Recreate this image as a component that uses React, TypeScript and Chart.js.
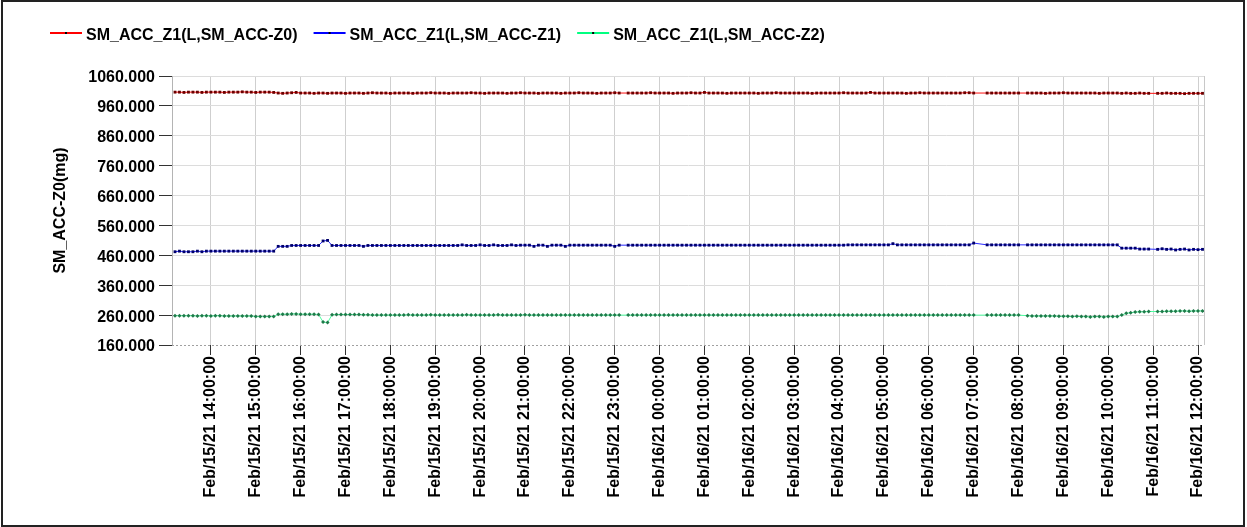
import React, { useEffect, useRef } from 'react';
import { Chart, registerables } from 'chart.js';

Chart.register(...registerables);

// Sampling: first sample Feb/15/21 13:12:00 (minutes since Feb/15/21 00:00), one sample every 6 minutes
const START_MINUTE = 792;
const STEP_MINUTES = 6;

const SERIES_NAMES = [
  'SM_ACC_Z1(L,SM_ACC-Z0)',
  'SM_ACC_Z1(L,SM_ACC-Z1)',
  'SM_ACC_Z1(L,SM_ACC-Z2)',
];

const Z0_VALUES = [
  1006, 1006, 1005, 1006, 1006, 1006, 1005, 1006, 1006, 1006,
  1006, 1005, 1006, 1006, 1006, 1007, 1006, 1006, 1005, 1006,
  1006, 1006, 1005, 1003, 1002, 1003, 1004, 1005, 1003, 1003,
  1003, 1002, 1003, 1003, 1002, 1003, 1003, 1003, 1002, 1003,
  1003, 1003, 1002, 1003, 1004, 1003, 1003, 1003, 1002, 1003,
  1003, 1003, 1003, 1002, 1003, 1003, 1003, 1004, 1003, 1003,
  1003, 1002, 1003, 1003, 1003, 1003, 1004, 1003, 1003, 1002,
  1003, 1003, 1003, 1003, 1002, 1003, 1003, 1004, 1003, 1003,
  1003, 1002, 1003, 1003, 1003, 1003, 1002, 1003, 1003, 1003,
  1004, 1003, 1003, 1003, 1002, 1003, 1003, 1003, 1004, 1003,
  null, 1003, 1003, 1003, 1003, 1003, 1004, 1003, 1003, 1003,
  1003, 1002, 1003, 1003, 1003, 1004, 1003, 1003, 1005, 1003,
  1003, 1003, 1003, 1002, 1003, 1003, 1003, 1003, 1003, 1003,
  1002, 1003, 1003, 1003, 1004, 1003, 1003, 1003, 1003, 1003,
  1003, 1003, 1002, 1003, 1003, 1003, 1003, 1003, 1003, 1004,
  1003, 1003, 1003, 1003, 1003, 1005, 1003, 1003, 1003, 1003,
  1003, 1003, 1003, 1002, 1003, 1003, 1004, 1003, 1003, 1003,
  1003, 1003, 1003, 1003, 1003, 1003, 1004, 1004, 1003, null,
  null, 1003, 1003, 1003, 1003, 1003, 1003, 1003, 1003, null,
  1003, 1003, 1003, 1003, 1002, 1003, 1003, 1003, 1004, 1003,
  1003, 1003, 1003, 1003, 1003, 1003, 1002, 1003, 1003, 1003,
  1003, 1002, 1003, 1002, 1002, 1003, 1002, 1002, null, 1002,
  1002, 1003, 1002, 1002, 1002, 1001, 1002, 1002, 1002, 1002,
];

const Z1_VALUES = [
  472, 474, 472, 472, 472, 474, 472, 474, 474, 474,
  474, 474, 474, 474, 474, 474, 474, 474, 474, 474,
  474, 474, 474, 490, 490, 490, 493, 493, 493, 493,
  493, 493, 493, 508, 510, 493, 493, 493, 493, 493,
  493, 493, 490, 493, 493, 493, 493, 493, 493, 493,
  493, 493, 493, 493, 493, 493, 493, 493, 493, 493,
  493, 493, 493, 493, 495, 493, 493, 493, 495, 493,
  493, 495, 493, 493, 493, 495, 493, 494, 494, 494,
  490, 494, 494, 490, 494, 494, 494, 490, 494, 494,
  494, 494, 494, 494, 494, 494, 494, 494, 490, 494,
  null, 494, 494, 494, 494, 494, 494, 494, 494, 494,
  494, 494, 494, 494, 494, 494, 494, 494, 494, 494,
  494, 494, 494, 494, 494, 494, 494, 494, 494, 494,
  494, 494, 494, 494, 494, 494, 494, 494, 494, 494,
  494, 494, 494, 494, 494, 494, 494, 494, 494, 494,
  495, 495, 495, 495, 495, 495, 495, 495, 495, 495,
  499, 495, 495, 495, 495, 495, 495, 495, 495, 495,
  495, 495, 495, 495, 495, 495, 495, 495, 501, null,
  null, 495, 495, 495, 495, 495, 495, 495, 495, null,
  495, 495, 495, 495, 495, 495, 495, 495, 495, 495,
  495, 495, 495, 495, 495, 495, 495, 495, 495, 495,
  495, 484, 484, 484, 484, 481, 481, 481, null, 480,
  482, 480, 481, 478, 480, 481, 478, 480, 479, 480,
];

const Z2_VALUES = [
  258, 258, 258, 258, 258, 257, 258, 258, 257, 258,
  258, 257, 257, 257, 257, 257, 257, 257, 255, 255,
  255, 255, 255, 263, 263, 263, 264, 264, 263, 263,
  263, 263, 262, 237, 235, 261, 262, 262, 262, 262,
  262, 262, 261, 261, 260, 260, 260, 260, 260, 260,
  260, 260, 261, 260, 260, 260, 260, 261, 260, 260,
  260, 260, 260, 260, 260, 261, 260, 260, 260, 260,
  260, 260, 261, 260, 260, 260, 260, 260, 261, 260,
  260, 260, 260, 260, 260, 260, 260, 260, 260, 260,
  260, 260, 260, 260, 260, 260, 260, 260, 260, 260,
  null, 260, 260, 260, 260, 260, 260, 260, 260, 260,
  260, 260, 260, 260, 260, 260, 260, 260, 260, 260,
  260, 260, 260, 260, 260, 260, 260, 260, 260, 260,
  260, 260, 260, 260, 260, 260, 260, 260, 260, 260,
  260, 260, 260, 260, 260, 260, 260, 260, 260, 260,
  260, 260, 260, 260, 260, 260, 260, 260, 260, 260,
  260, 260, 260, 260, 260, 260, 260, 260, 260, 260,
  260, 260, 260, 260, 260, 260, 260, 260, 260, null,
  null, 260, 260, 260, 260, 260, 260, 260, 260, null,
  258, 257, 257, 257, 257, 257, 257, 256, 256, 256,
  255, 256, 255, 255, 254, 255, 255, 254, 255, 255,
  255, 260, 266, 268, 270, 271, 271, 272, null, 272,
  272, 273, 273, 273, 274, 274, 273, 274, 274, 274,
];

const X_MIN = 788;
const X_MAX = 2168;
const X_TICK_MINUTES = [
  840, 900, 960, 1020, 1080, 1140, 1200, 1260, 1320, 1380, 1440, 1500,
  1560, 1620, 1680, 1740, 1800, 1860, 1920, 1980, 2040, 2100, 2160,
];
const X_TICK_LABELS = [
  'Feb/15/21 14:00:00', 'Feb/15/21 15:00:00', 'Feb/15/21 16:00:00', 'Feb/15/21 17:00:00',
  'Feb/15/21 18:00:00', 'Feb/15/21 19:00:00', 'Feb/15/21 20:00:00', 'Feb/15/21 21:00:00',
  'Feb/15/21 22:00:00', 'Feb/15/21 23:00:00', 'Feb/16/21 00:00:00', 'Feb/16/21 01:00:00',
  'Feb/16/21 02:00:00', 'Feb/16/21 03:00:00', 'Feb/16/21 04:00:00', 'Feb/16/21 05:00:00',
  'Feb/16/21 06:00:00', 'Feb/16/21 07:00:00', 'Feb/16/21 08:00:00', 'Feb/16/21 09:00:00',
  'Feb/16/21 10:00:00', 'Feb/16/21 11:00:00', 'Feb/16/21 12:00:00',
];
const Y_TICKS = [160, 260, 360, 460, 560, 660, 760, 860, 960, 1060];
const Y_TITLE = 'SM_ACC-Z0(mg)';

const FONT_FAMILY = '"Liberation Sans", Arial, Helvetica, sans-serif';
const LINE_COLORS = ['#ff1010', '#2a2aff', '#4dffa0'];
const POINT_COLORS = ['#6a0000', '#00006a', '#1f7a4a'];
const POINT_STYLES = ['rect', 'rect', 'rectRot'];
const LEGEND_COLORS = ['#ff0000', '#0000ff', '#00ff80'];

const SAMPLE_MINUTES = Z0_VALUES.map((_, i) => START_MINUTE + i * STEP_MINUTES);

const legendAndFramePlugin = {
  id: 'legendAndFrame',
  afterDraw(chart: any) {
    const ctx = chart.ctx as CanvasRenderingContext2D;
    const a = chart.chartArea;
    ctx.save();
    // right edge of plot frame
    ctx.strokeStyle = '#c8c8c8';
    ctx.lineWidth = 1;
    ctx.beginPath();
    ctx.moveTo(Math.round(a.right) + 0.5, a.top);
    ctx.lineTo(Math.round(a.right) + 0.5, a.bottom);
    ctx.stroke();
    // dotted bottom edge of plot frame
    ctx.strokeStyle = '#a0a0a0';
    ctx.setLineDash([2, 2]);
    ctx.beginPath();
    ctx.moveTo(a.left, Math.round(a.bottom) + 0.5);
    ctx.lineTo(a.right, Math.round(a.bottom) + 0.5);
    ctx.stroke();
    ctx.setLineDash([]);
    // legend
    ctx.font = `bold 16px ${FONT_FAMILY}`;
    ctx.textBaseline = 'alphabetic';
    ctx.textAlign = 'left';
    let x = 50;
    const lineY = 33;
    chart.data.datasets.forEach((ds: any, i: number) => {
      ctx.strokeStyle = LEGEND_COLORS[i];
      ctx.lineWidth = 2;
      ctx.beginPath();
      ctx.moveTo(x, lineY);
      ctx.lineTo(x + 32, lineY);
      ctx.stroke();
      ctx.fillStyle = '#000';
      ctx.fillRect(x + 15, lineY - 1, 2, 2);
      ctx.fillStyle = '#000';
      ctx.fillText(ds.label, x + 36, 40);
      x += 36 + ctx.measureText(ds.label).width + 16;
    });
    ctx.restore();
  },
};

export default function App() {
  const canvasRef = useRef<HTMLCanvasElement | null>(null);

  useEffect(() => {
    const canvas = canvasRef.current;
    if (!canvas) return;
    const seriesValues = [Z0_VALUES, Z1_VALUES, Z2_VALUES];
    const datasets = seriesValues.map((vals, s) => ({
      label: SERIES_NAMES[s],
      data: vals.map((v, i) => ({ x: SAMPLE_MINUTES[i], y: v })),
      borderColor: LINE_COLORS[s],
      borderWidth: 1,
      pointStyle: POINT_STYLES[s] as any,
      pointRadius: 2,
      pointBorderWidth: 0,
      pointBackgroundColor: POINT_COLORS[s],
      pointBorderColor: POINT_COLORS[s],
      spanGaps: true,
      tension: 0,
      fill: false,
    }));

    const chart = new Chart(canvas, {
      type: 'line',
      data: { datasets },
      plugins: [legendAndFramePlugin],
      options: {
        animation: false,
        responsive: false,
        devicePixelRatio: 1,
        layout: { padding: { top: 76, left: 0, right: 43, bottom: 0 } },
        plugins: {
          legend: { display: false },
          tooltip: { enabled: false },
        },
        scales: {
          x: {
            type: 'linear',
            min: X_MIN,
            max: X_MAX,
            afterBuildTicks: (scale: any) => {
              scale.ticks = X_TICK_MINUTES.map((v) => ({ value: v }));
            },
            afterFit: (scale: any) => {
              scale.height = 182;
              scale.paddingLeft = 0;
              scale.paddingRight = 0;
              scale.paddingTop = 0;
              scale.paddingBottom = 0;
            },
            ticks: {
              autoSkip: false,
              minRotation: 90,
              maxRotation: 90,
              padding: 1,
              color: '#000',
              font: { family: FONT_FAMILY, size: 16, weight: 'bold' },
              callback: (_v: any, index: number) => X_TICK_LABELS[index],
            },
            grid: {
              color: '#cfcfcf',
              tickColor: '#333',
              tickLength: 10,
              drawTicks: true,
            },
            border: { display: false },
          },
          y: {
            type: 'linear',
            min: 160,
            max: 1060,
            afterBuildTicks: (scale: any) => {
              scale.ticks = Y_TICKS.map((v) => ({ value: v }));
            },
            afterFit: (scale: any) => {
              scale.width = 172;
              scale.paddingLeft = 0;
              scale.paddingRight = 0;
              scale.paddingTop = 0;
              scale.paddingBottom = 0;
            },
            ticks: {
              padding: 4,
              labelOffset: 2,
              color: '#000',
              font: { family: FONT_FAMILY, size: 16, weight: 'bold' },
              callback: (v: any) => Number(v).toFixed(3),
            },
            grid: {
              color: (c: any) => (c.tick && c.tick.value === 160 ? 'rgba(0,0,0,0)' : '#dcdcdc'),
              tickColor: '#333',
              tickLength: 13,
            },
            border: { display: true, color: '#b4b4b4', width: 1 },
            title: {
              display: true,
              text: Y_TITLE,
              color: '#000',
              font: { family: FONT_FAMILY, size: 16, weight: 'bold' },
              padding: { top: 51, bottom: 0 },
            },
          },
        },
      },
    });
    return () => chart.destroy();
  }, []);

  return (
    <div style={{ position: 'absolute', left: 0, top: 0, width: 1247, height: 527, background: '#fff' }}>
      <canvas
        ref={canvasRef}
        width={1247}
        height={527}
        style={{ position: 'absolute', left: 0, top: 0, width: 1247, height: 527 }}
      />
      <div
        style={{
          position: 'absolute',
          left: 1,
          top: 0,
          width: 1244,
          height: 527,
          boxSizing: 'border-box',
          border: '2px solid #222',
          pointerEvents: 'none',
        }}
      />
    </div>
  );
}
